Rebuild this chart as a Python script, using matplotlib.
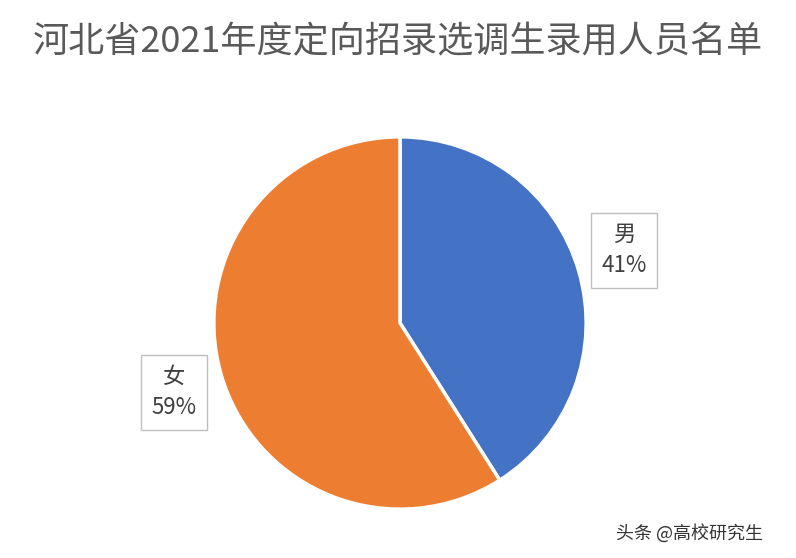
import matplotlib.pyplot as plt

plt.rcParams['font.family'] = ['Noto Sans CJK SC', 'DejaVu Sans']

title = '河北省2021年度定向招录选调生录用人员名单'
labels = ['男', '女']
values = [41, 59]
colors = ['#4472C4', '#ED7D31']

fig = plt.figure(figsize=(7.96, 5.58), dpi=100)
fig.patch.set_facecolor('white')

# pie axes: center ~(400, 323) px, radius ~188 px
ax = fig.add_axes([212 / 796, (558 - 323 - 188) / 558, 376 / 796, 376 / 558])
ax.pie(values, colors=colors, startangle=90, counterclock=False,
       wedgeprops=dict(edgecolor='white', linewidth=2.5), radius=1.0)
ax.set_aspect('equal')
ax.set_xlim(-1.01, 1.01)
ax.set_ylim(-1.01, 1.01)

fig.text(0.5, 1 - 42 / 558, title, ha='center', va='center',
         fontsize=26, color='#595959')

box = dict(boxstyle='square,pad=0.45', facecolor='white', edgecolor='#BFBFBF', linewidth=1)
fig.text(624 / 796, 1 - 250 / 558, f'{labels[0]}\n{values[0]}%', ha='center', va='center',
         fontsize=16, color='#404040', linespacing=1.5, bbox=box)
fig.text(174 / 796, 1 - 392 / 558, f'{labels[1]}\n{values[1]}%', ha='center', va='center',
         fontsize=16, color='#404040', linespacing=1.5, bbox=box)

fig.text(690 / 796, 1 - 533 / 558, '头条 @高校研究生', ha='center', va='center',
         fontsize=13, color='#333333')

fig.savefig('out.png', dpi=100)
